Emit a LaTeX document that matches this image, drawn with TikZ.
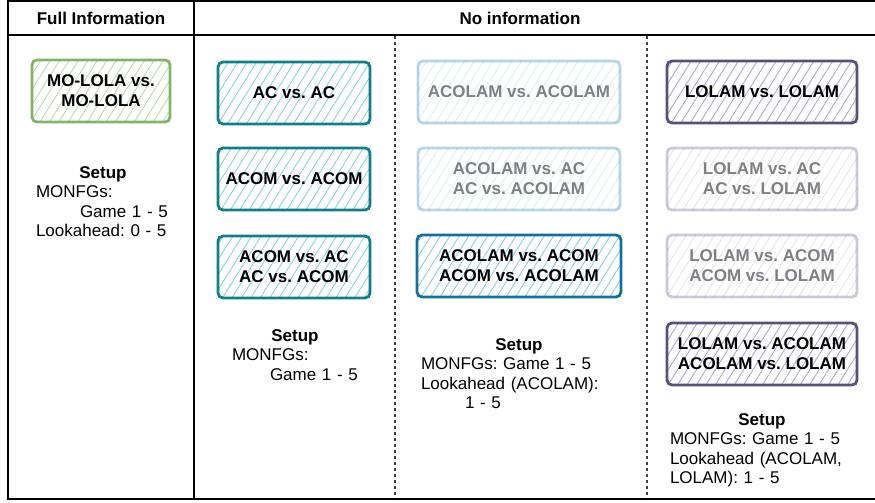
\documentclass[tikz,border=0pt]{standalone}
\usepackage{fontspec}
\setmainfont{Liberation Sans}
\usetikzlibrary{patterns.meta}
\frenchspacing

\definecolor{grnline}{HTML}{82B366}
\definecolor{grnfill}{HTML}{B9DDB0}
\definecolor{tealline}{HTML}{0E8088}
\definecolor{tealfill}{HTML}{8FD2DC}
\definecolor{blueline}{HTML}{10739E}
\definecolor{bluefill}{HTML}{8FCBE8}
\definecolor{purpline}{HTML}{56517E}
\definecolor{purpfill}{HTML}{ADA8D6}

\begin{document}
\begin{tikzpicture}[
        x=1pt, y=-1pt,
        font=\fontsize{17}{19.5}\selectfont,
        % Estilo base de las cajas de partidas
        matchbox/.style={
                rectangle,
                rounded corners=5pt,
                line width=2.8pt,
                align=center,
                font=\fontsize{17}{20}\selectfont\bfseries,
                minimum height=62pt,
                inner sep=2pt
            },
        greenbox/.style={matchbox, draw=grnline,
                pattern={Lines[angle=58,distance=8pt,line width=0.9pt]}, pattern color=grnfill},
        tealbox/.style={matchbox, draw=tealline,
                pattern={Lines[angle=58,distance=8pt,line width=0.9pt]}, pattern color=tealfill},
        bluebox/.style={matchbox, draw=blueline,
                pattern={Lines[angle=58,distance=8pt,line width=0.9pt]}, pattern color=bluefill},
        purplebox/.style={matchbox, draw=purpline,
                pattern={Lines[angle=58,distance=8pt,line width=0.9pt]}, pattern color=purpfill},
        % Cajas no usadas (atenuadas)
        faded/.style={draw opacity=0.3, fill opacity=0.45, text opacity=1, text=black!50},
        % Texto de configuracion
        setupnote/.style={align=left, anchor=north, inner sep=0pt},
        headtext/.style={font=\fontsize{17}{20}\selectfont\bfseries},
        sepline/.style={line width=1.2pt, dash pattern=on 3pt off 3pt, black!75}
    ]
    \useasboundingbox (0,0) rectangle (875,503);

    % MARCO Y CABECERAS
    \draw[line width=2pt] (8,1) rectangle (880,499);
    \draw[line width=2.5pt] (8,35) -- (880,35);
    \draw[line width=1.5pt] (194,1) -- (194,499);
    \draw[sepline] (395,36) -- (395,498);
    \draw[sepline] (647,36) -- (647,498);
    \node[headtext] (fullinfo) at (101,18) {Full Information};
    \node[headtext] (noinfo) at (520,18) {No information};

    % Columna 1: informacion completa
    \node[greenbox, minimum width=138pt] (mololamolola) at (101,91) {MO-LOLA vs.\\MO-LOLA};
    \node[setupnote, text width=134pt] (setupfull) at (103,166) {%
        {\centering\textbf{Setup}\par}
        MONFGs:\par
        \hspace*{44pt}Game 1 - 5\par
        Lookahead: 0 - 5};

    % Columna 2: AC / ACOM
    \node[tealbox, minimum width=152pt] (acac) at (294,93) {AC vs. AC};
    \node[tealbox, minimum width=152pt] (acomacom) at (294,179) {ACOM vs. ACOM};
    \node[tealbox, minimum width=152pt] (acomac) at (294,267) {ACOM vs. AC\\AC vs. ACOM};
    \node[setupnote, text width=126pt] (setupac) at (295,329) {%
        {\centering\textbf{Setup}\par}
        MONFGs:\par
        \hspace*{38pt}Game 1 - 5};

    % Columna 3: ACOLAM
    \node[bluebox, faded, minimum width=202pt] (acolamacolam) at (519,92) {ACOLAM vs. ACOLAM};
    \node[bluebox, faded, minimum width=202pt] (acolamac) at (519,179) {ACOLAM vs. AC\\AC vs. ACOLAM};
    \node[bluebox, minimum width=204pt] (acolamacom) at (519,266) {ACOLAM vs. ACOM\\ACOM vs. ACOLAM};
    \node[setupnote, text width=196pt] (setupacolam) at (519,338) {%
        {\centering\textbf{Setup}\par}
        MONFGs: Game 1 - 5\par
        Lookahead (ACOLAM):\par
        \hspace*{44pt}1 - 5};

    % Columna 4: LOLAM
    \node[purplebox, minimum width=190pt] (lolamlolam) at (762,92) {LOLAM vs. LOLAM};
    \node[purplebox, faded, minimum width=190pt] (lolamac) at (762,179) {LOLAM vs. AC\\AC vs. LOLAM};
    \node[purplebox, faded, minimum width=190pt] (lolamacom) at (762,266) {LOLAM vs. ACOM\\ACOM vs. LOLAM};
    \node[purplebox, minimum width=190pt] (lolamacolam) at (762,354) {LOLAM vs. ACOLAM\\ACOLAM vs. LOLAM};
    \node[setupnote, text width=184pt] (setuplolam) at (762,413) {%
        {\centering\textbf{Setup}\par}
        MONFGs: Game 1 - 5\par
        Lookahead (ACOLAM,\par
        LOLAM): 1 - 5};

\end{tikzpicture}
\end{document}
